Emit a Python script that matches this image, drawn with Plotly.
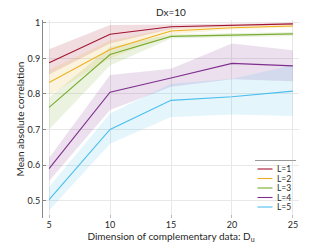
import plotly.graph_objects as go

dims = [5, 10, 15, 20, 25]
labels = ["L=1", "L=2", "L=3", "L=4", "L=5"]
colors = ["#A2142F", "#EDB120", "#77AC30", "#7E2F8E", "#4DBEEE"]
band_rgba = ["rgba(162,20,47,0.15)", "rgba(237,177,32,0.15)", "rgba(119,172,48,0.15)",
             "rgba(126,47,142,0.15)", "rgba(77,190,238,0.15)"]

mean_L1 = [0.888, 0.968, 0.989, 0.994, 0.997]
mean_L2 = [0.832, 0.925, 0.977, 0.986, 0.991]
mean_L3 = [0.762, 0.911, 0.962, 0.965, 0.969]
mean_L4 = [0.590, 0.805, 0.845, 0.886, 0.879]
mean_L5 = [0.503, 0.700, 0.782, 0.792, 0.808]

upper_L1 = [0.926, 0.994, 0.995, 0.998, 1.000]
lower_L1 = [0.855, 0.942, 0.983, 0.990, 0.994]
upper_L2 = [0.867, 0.950, 0.985, 0.990, 0.995]
lower_L2 = [0.796, 0.900, 0.968, 0.981, 0.987]
upper_L3 = [0.790, 0.932, 0.968, 0.971, 0.974]
lower_L3 = [0.700, 0.880, 0.956, 0.959, 0.963]
upper_L4 = [0.620, 0.853, 0.871, 0.942, 0.923]
lower_L4 = [0.555, 0.755, 0.820, 0.841, 0.836]
upper_L5 = [0.538, 0.745, 0.829, 0.843, 0.881]
lower_L5 = [0.472, 0.660, 0.735, 0.742, 0.738]

means = [mean_L1, mean_L2, mean_L3, mean_L4, mean_L5]
uppers = [upper_L1, upper_L2, upper_L3, upper_L4, upper_L5]
lowers = [lower_L1, lower_L2, lower_L3, lower_L4, lower_L5]

W, H = 332, 249
ML, MR, MT, MB = 43, 33, 20, 31
PW, PH = W - ML - MR, H - MT - MB


def px_x(p):
    return (p - ML) / PW


def px_y(p):
    return (H - MB - p) / PH


fig = go.Figure()
for i in range(5):
    fig.add_trace(go.Scatter(
        x=dims + dims[::-1], y=uppers[i] + lowers[i][::-1],
        fill="toself", fillcolor=band_rgba[i], line=dict(width=0),
        mode="lines", showlegend=False, hoverinfo="skip"))
for i in range(5):
    fig.add_trace(go.Scatter(
        x=dims, y=means[i], mode="lines", name=labels[i], showlegend=False,
        line=dict(color=colors[i], width=1.1)))

font = "Lato, 'DejaVu Sans', sans-serif"

# manual compact legend (MATLAB style)
shapes = [dict(type="line", xref="paper", yref="paper",
               x0=px_x(255), x1=px_x(296), y0=px_y(160.5), y1=px_y(160.5),
               line=dict(color="#9a9a9a", width=1))]
annotations = []
leg_y = [169, 178.5, 188, 197.5, 207]
for i in range(5):
    shapes.append(dict(type="line", xref="paper", yref="paper",
                       x0=px_x(257.5), x1=px_x(272.5), y0=px_y(leg_y[i]), y1=px_y(leg_y[i]),
                       line=dict(color=colors[i], width=1.1)))
    annotations.append(dict(xref="paper", yref="paper", x=px_x(274.5), y=px_y(leg_y[i]),
                            text=labels[i], showarrow=False, xanchor="left", yanchor="middle",
                            font=dict(size=8.5, color="#262626")))

fig.update_layout(
    width=W, height=H,
    margin=dict(l=ML, r=MR, t=MT, b=MB),
    plot_bgcolor="white", paper_bgcolor="white",
    font=dict(family=font, size=9, color="#262626"),
    title=dict(text="Dx=10", x=0.515, xanchor="center", y=0.95, yanchor="middle",
               font=dict(size=10, color="#262626")),
    showlegend=False,
    shapes=shapes, annotations=annotations,
)
fig.update_xaxes(
    range=[4.5, 25.5], tickvals=dims, ticktext=[str(d) for d in dims],
    showgrid=True, gridcolor="#e8e8e8", gridwidth=1,
    ticks="inside", ticklen=3, tickcolor="#bbbbbb",
    showline=False, zeroline=False, automargin=False,
    title=dict(text="Dimension of complementary data: D<sub>u</sub>", standoff=2,
               font=dict(size=10)),
)
fig.update_yaxes(
    range=[0.451, 1.008], tickvals=[0.5, 0.6, 0.7, 0.8, 0.9, 1.0],
    ticktext=["0.5", "0.6", "0.7", "0.8", "0.9", "1"],
    showgrid=True, gridcolor="#e8e8e8", gridwidth=1,
    ticks="inside", ticklen=3, tickcolor="#888888",
    showline=True, linecolor="#888888", linewidth=1, zeroline=False, automargin=False,
    title=dict(text="Mean absolute correlation", standoff=1, font=dict(size=10)),
)
fig.write_html("out.html",
               config={"displayModeBar": False},
               post_script="document.body.style.margin='0';document.body.style.overflow='hidden';")
